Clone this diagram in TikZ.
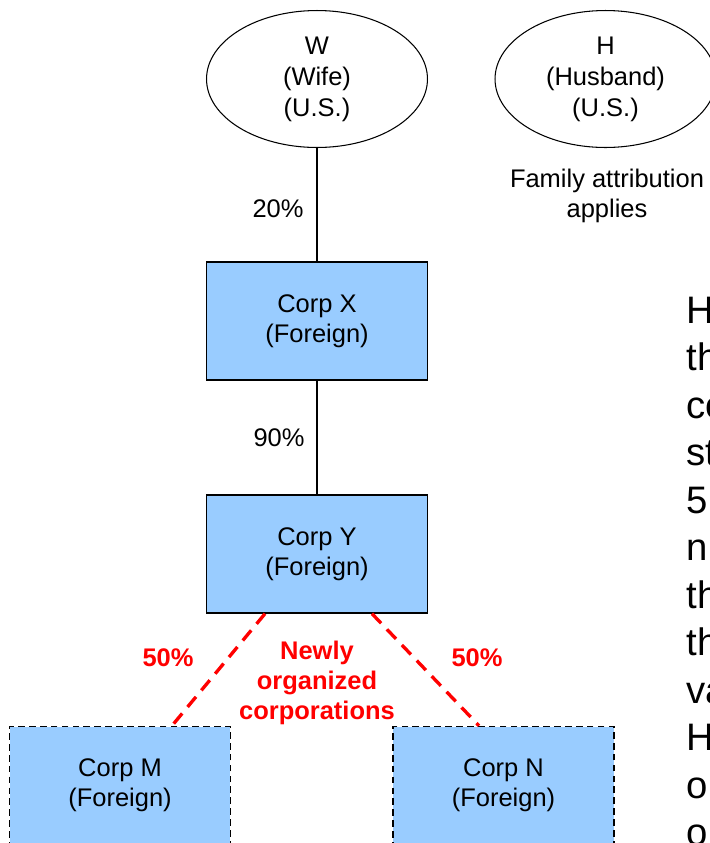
\documentclass[tikz,border=0pt]{standalone}
\usepackage{fontspec}
\setmainfont{Liberation Sans}
\usetikzlibrary{arrows.meta, positioning, shapes.geometric}
\definecolor{corpblue}{HTML}{99CCFF}
\definecolor{newred}{HTML}{FF0000}

\begin{document}
\begin{tikzpicture}[x=0.02cm, y=-0.02cm,
    txt/.style={font=\fontsize{14.5}{17}\selectfont, align=center},
    person/.style={ellipse, draw, line width=0.6pt, minimum width=4.42cm,
                   minimum height=2.74cm, inner sep=0pt, txt,
                   font=\fontsize{14.5}{17.6}\selectfont},
    corp/.style={rectangle, draw, line width=0.8pt, fill=corpblue,
                 minimum width=4.42cm, minimum height=2.36cm, txt},
    newcorp/.style={corp, dashed, line width=0.9pt, dash pattern=on 3.8pt off 2.4pt},
    own/.style={line width=0.8pt},
    newown/.style={draw=newred, line width=1.9pt, dash pattern=on 7.5pt off 4.8pt},
    redlbl/.style={align=center, text=newred,
                   font=\fontsize{14.5}{17}\selectfont\bfseries},
    note/.style={font=\fontsize{21.8}{26.9}\selectfont, inner sep=0pt,
                 anchor=base west},
]
\useasboundingbox (0,0) rectangle (710,843);
\node[person] (wife) at (317,79)  {W\\(Wife)\\(U.S.)};
\node[person] (husb) at (605.5,79) {H\\(Husband)\\(U.S.)};
\node[txt]    (fam)  at (607,196)   {Family attribution\\applies};
\node[corp]   (corpx) at (317,321)  {Corp X\\(Foreign)};
\node[corp]   (corpy) at (317,554)  {Corp Y\\(Foreign)};
\node[newcorp] (corpm) at (120,785.5)  {Corp M\\(Foreign)};
\node[newcorp] (corpn) at (503.5,785.5) {Corp N\\(Foreign)};
\draw[own] (wife.south) -- (corpx.north);
\draw[own] (corpx.south) -- (corpy.north);
\node[txt] (p20) at (278,209) {20\%};
\node[txt] (p90) at (279,438) {90\%};
% new ownership, 50/50
\draw[newown] ([xshift=-1.04cm]corpy.south) -- ([xshift=1.04cm]corpm.north);
\draw[newown] ([xshift=1.1cm]corpy.south) -- ([xshift=-0.49cm]corpn.north);
\node[redlbl] (pm) at (168,658) {50\%};
\node[redlbl] (pn) at (477,658) {50\%};
\node[redlbl] (newly) at (317,683) {Newly\\organized\\corporations};
% side text, cut at the edge
\foreach \frag [count=\k] in {H,th,co,st,5,n,th,th,va,H,o,o}
  \node[note] (side\k) at (686,{323+47.5*(\k-1)}) {\frag};
\end{tikzpicture}
\end{document}
